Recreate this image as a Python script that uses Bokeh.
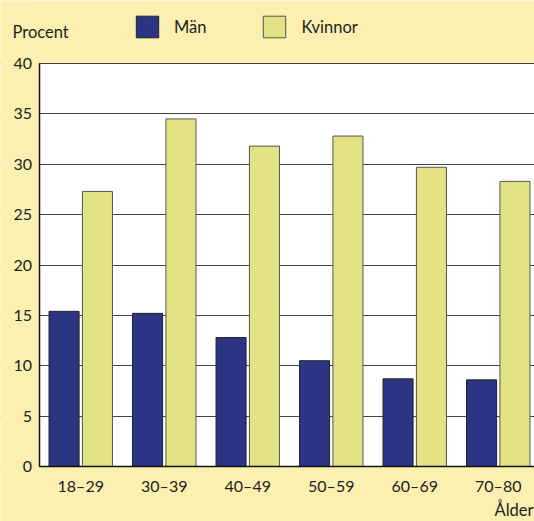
from bokeh.plotting import figure
from bokeh.models import (ColumnDataSource, Label, Legend, LegendItem, FixedTicker,
                          Range1d, LinearAxis, BoxAnnotation)
from bokeh.embed import file_html
from bokeh.resources import INLINE

# Andel (procent) per åldersgrupp
age_groups = ["18–29", "30–39", "40–49", "50–59", "60–69", "70–80"]
man = [15.4, 15.2, 12.8, 10.5, 8.7, 8.6]
kvinnor = [27.3, 34.5, 31.8, 32.8, 29.7, 28.3]
series_names = ["Män", "Kvinnor"]
y_ticks = [0, 5, 10, 15, 20, 25, 30, 35, 40]

BG = "#FCF0B1"
MAN_COLOR = "#2C3584"
KV_COLOR = "#E3E285"
FONT = "Lato"
TEXT = "#222222"

W, H = 534, 521
# plot area inside the canvas (pixels): left edge, top (=40) and bottom (=0)
LEFT_PX, TOP_PX, BOTTOM_PX = 38.5, 63.0, 466.0
GROUP_PX = 83.5
px_per_unit = (BOTTOM_PX - TOP_PX) / 40.0

x_start = -LEFT_PX / GROUP_PX
x_end = (W - LEFT_PX) / GROUP_PX
y_start = -(H - BOTTOM_PX) / px_per_unit
y_end = 40 + TOP_PX / px_per_unit

centers = [i + 0.5 for i in range(len(age_groups))]
src = ColumnDataSource(dict(
    x_man=[c - 0.2 for c in centers],
    x_kv=[c + 0.2 for c in centers],
    man=man,
    kvinnor=kvinnor,
))

p = figure(width=W, height=H, output_backend="svg", toolbar_location=None,
           x_range=Range1d(x_start, x_end), y_range=Range1d(y_start, y_end),
           x_axis_location=None, y_axis_location=None,
           min_border=0, min_border_left=0, min_border_right=0,
           min_border_top=0, min_border_bottom=0)
p.background_fill_color = BG
p.border_fill_color = BG
p.outline_line_color = None
p.title.visible = False

# white plotting area behind the grid
p.add_layout(BoxAnnotation(left=0, bottom=0, top=40, fill_color="white", fill_alpha=1,
                           line_color=None, level="image"))

# horizontal grid lines
p.xgrid.visible = False
p.ygrid.ticker = FixedTicker(ticks=y_ticks)
p.ygrid.grid_line_color = "#444444"
p.ygrid.grid_line_width = 1
# keep the margin left of the axis plain
p.add_layout(BoxAnnotation(right=0, fill_color=BG, fill_alpha=1,
                           line_color=None, level="glyph"))

r_man = p.vbar(x="x_man", top="man", width=0.36, source=src,
               fill_color=MAN_COLOR, line_color="#222222", line_width=1)
r_kv = p.vbar(x="x_kv", top="kvinnor", width=0.36, source=src,
              fill_color=KV_COLOR, line_color="#555555", line_width=1)

# y axis
yaxis = LinearAxis(fixed_location=0, bounds=(0, 40), ticker=FixedTicker(ticks=y_ticks),
                   major_tick_out=0, major_tick_in=0, minor_tick_out=0, minor_tick_in=0,
                   axis_line_color="#111111", axis_line_width=1.5,
                   major_label_text_font=FONT, major_label_text_font_size="16px",
                   major_label_text_color=TEXT, major_label_standoff=7)
p.add_layout(yaxis, "left")

# x axis
xaxis = LinearAxis(fixed_location=0, bounds=(0, x_end), ticker=FixedTicker(ticks=centers),
                   major_label_overrides={c: g for c, g in zip(centers, age_groups)},
                   major_tick_out=0, major_tick_in=0, minor_tick_out=0, minor_tick_in=0,
                   axis_line_color="#111111", axis_line_width=1.5,
                   major_label_text_font=FONT, major_label_text_font_size="16px",
                   major_label_text_color=TEXT, major_label_standoff=9)
p.add_layout(xaxis, "below")

# legend across the top
legend = Legend(items=[LegendItem(label=series_names[0], renderers=[r_man]),
                       LegendItem(label=series_names[1], renderers=[r_kv])],
                orientation="horizontal", location=(133, H - 40),
                glyph_width=28, glyph_height=27, label_standoff=13, spacing=54,
                padding=0, margin=0, border_line_color=None,
                background_fill_alpha=0, label_text_font=FONT,
                label_text_font_size="16.5px", label_text_color=TEXT)
p.add_layout(legend, "center")

p.add_layout(Label(x=12, y=H - 31, x_units="screen", y_units="screen", text="Procent",
                   text_baseline="alphabetic", text_font=FONT,
                   text_font_size="16.5px", text_color=TEXT))
p.add_layout(Label(x=W - 1, y=12, x_units="screen", y_units="screen", text="Ålder",
                   text_align="right", text_baseline="alphabetic", text_font=FONT,
                   text_font_size="16.5px", text_color=TEXT))

open("out.html", "w").write(file_html(p, INLINE))
